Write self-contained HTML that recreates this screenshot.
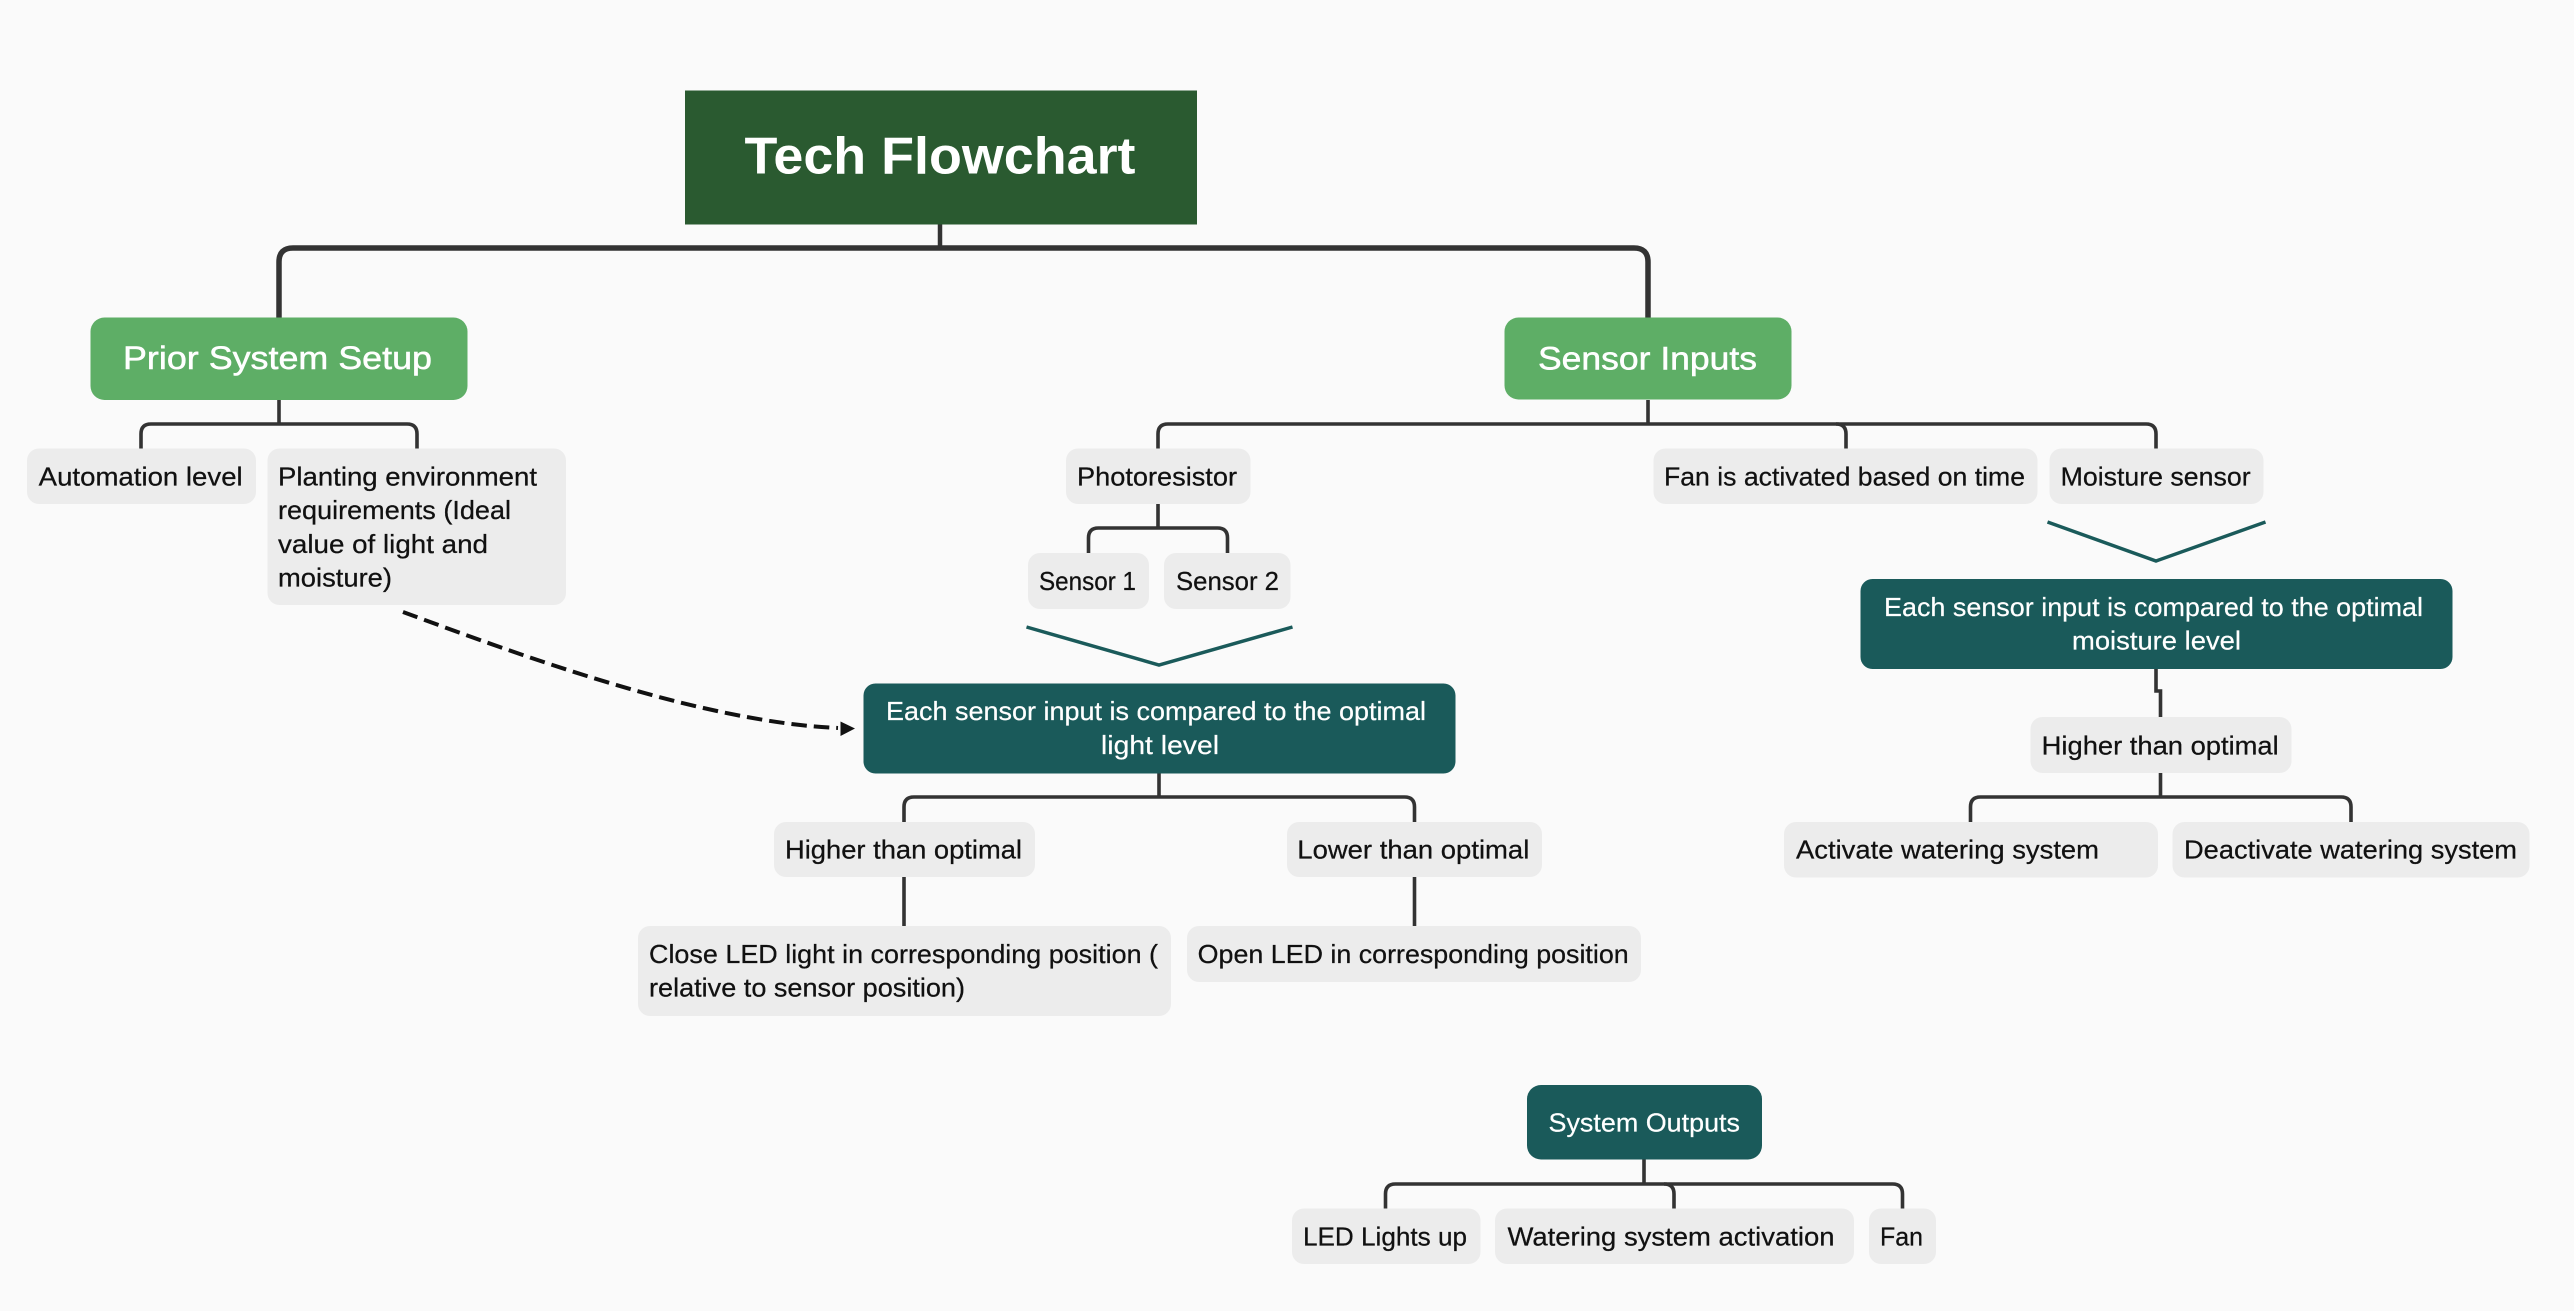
<!DOCTYPE html>
<html><head><meta charset="utf-8"><title>Tech Flowchart</title>
<style>
html,body{margin:0;padding:0;background:#fafafa}
svg{display:block}
text{font-family:"Liberation Sans",sans-serif}
.d{font-size:26px;fill:#111;stroke:#111;stroke-width:.25px}
.w{font-size:26px;fill:#fff;stroke:#fff;stroke-width:.2px}
.s{font-size:32px;fill:#fff;stroke:#fff;stroke-width:.5px}
.n{fill:#ececec}
.t{fill:#1a5a5a}
.g{fill:#5eae66}
.c{fill:none;stroke:#333;stroke-width:3.6;stroke-linecap:butt}
</style></head><body>
<svg xmlns="http://www.w3.org/2000/svg" width="2574" height="1311" viewBox="0 0 2574 1311">
<rect width="2574" height="1311" fill="#fafafa"/>

<!-- connectors -->
<path d="M940 224V248" fill="none" stroke="#333" stroke-width="4.5"/>
<path d="M279 318V262Q279 248 293 248H1634Q1648 248 1648 262V318" fill="none" stroke="#333" stroke-width="5.5"/>
<path class="c" d="M279 400V424"/>
<path class="c" d="M141 449V434Q141 424 151 424H407Q417 424 417 434V449"/>
<path class="c" d="M1648 400V424"/>
<path class="c" d="M1158 449V434Q1158 424 1168 424H2146Q2156 424 2156 434V449"/>
<path class="c" d="M1836 424Q1846 424 1846 434V449"/>
<path class="c" d="M1158 504V528"/>
<path class="c" d="M1088.500 553V538Q1088.500 528 1098.500 528H1217.500Q1227.500 528 1227.500 538V553"/>
<path class="c" d="M1159 773V797"/>
<path class="c" d="M904 822V807Q904 797 914 797H1404.500Q1414.500 797 1414.500 807V822"/>
<path class="c" d="M904 877V926"/>
<path class="c" d="M1414.500 877V926"/>
<path class="c" d="M2156 669V691H2160.500V717"/>
<path class="c" d="M2160.500 773V797"/>
<path class="c" d="M1970.500 822V807Q1970.500 797 1980.500 797H2341Q2351 797 2351 807V822"/>
<path class="c" d="M1644 1159V1184"/>
<path class="c" d="M1385.500 1208.500V1194Q1385.500 1184 1395.500 1184H1892.500Q1902.500 1184 1902.500 1194V1208.500"/>
<path class="c" d="M1664 1184Q1674 1184 1674 1194V1208.500"/>

<!-- chevrons -->
<path d="M1026.500 627L1159 665L1292.500 627" fill="none" stroke="#1a5a5a" stroke-width="3.5"/>
<path d="M2047.500 522L2156 561L2265.500 522" fill="none" stroke="#1a5a5a" stroke-width="3.5"/>

<!-- dashed arrow -->
<path d="M403 612C520 655 700 722 838 728" fill="none" stroke="#111" stroke-width="4" stroke-dasharray="15.500 7"/>
<path d="M840.500 721.500L855 728.500L840.500 736Z" fill="#111"/>

<!-- title -->
<rect x="685" y="90.500" width="512" height="134" fill="#2a5a30"/>
<text x="744.500" y="173.700" font-size="52" font-weight="700" fill="#fff" textLength="391" lengthAdjust="spacingAndGlyphs">Tech Flowchart</text>

<!-- sections -->
<rect class="g" x="90.500" y="317.500" width="377" height="82.500" rx="14"/>
<text class="s" x="123" y="369" textLength="309" lengthAdjust="spacingAndGlyphs">Prior System Setup</text>
<rect class="g" x="1504.500" y="317.500" width="287" height="82" rx="14"/>
<text class="s" x="1538" y="369.300" textLength="219" lengthAdjust="spacingAndGlyphs">Sensor Inputs</text>

<!-- left nodes -->
<rect class="n" x="27" y="448.500" width="229" height="55.500" rx="12"/>
<text class="d" x="38.700" y="485.600" textLength="204" lengthAdjust="spacingAndGlyphs">Automation level</text>
<rect class="n" x="267.500" y="448.500" width="298.500" height="156.500" rx="12"/>
<text class="d" x="278" y="485.600" textLength="259" lengthAdjust="spacingAndGlyphs">Planting environment</text>
<text class="d" x="278" y="519.200" textLength="233" lengthAdjust="spacingAndGlyphs">requirements (Ideal</text>
<text class="d" x="278" y="552.900" textLength="210" lengthAdjust="spacingAndGlyphs">value of light and</text>
<text class="d" x="278" y="586.600" textLength="114" lengthAdjust="spacingAndGlyphs">moisture)</text>

<!-- photoresistor -->
<rect class="n" x="1066" y="448.500" width="184.500" height="55.500" rx="12"/>
<text class="d" x="1077" y="485.600" textLength="160" lengthAdjust="spacingAndGlyphs">Photoresistor</text>
<rect class="n" x="1028" y="553" width="121" height="56" rx="12"/>
<text class="d" x="1039" y="590" textLength="97" lengthAdjust="spacingAndGlyphs">Sensor 1</text>
<rect class="n" x="1164" y="553" width="126.500" height="56" rx="12"/>
<text class="d" x="1176" y="590" textLength="103" lengthAdjust="spacingAndGlyphs">Sensor 2</text>

<!-- light box -->
<rect class="t" x="863.500" y="683.500" width="592" height="90" rx="12"/>
<text class="w" x="886" y="720" textLength="540" lengthAdjust="spacingAndGlyphs">Each sensor input is compared to the optimal</text>
<text class="w" x="1101" y="754" textLength="118" lengthAdjust="spacingAndGlyphs">light level</text>

<rect class="n" x="774" y="822" width="261" height="55" rx="12"/>
<text class="d" x="785" y="858.500" textLength="237" lengthAdjust="spacingAndGlyphs">Higher than optimal</text>
<rect class="n" x="1287" y="822" width="255" height="55" rx="12"/>
<text class="d" x="1297.300" y="858.500" textLength="232" lengthAdjust="spacingAndGlyphs">Lower than optimal</text>
<rect class="n" x="638" y="926" width="533" height="90" rx="12"/>
<text class="d" x="649" y="963" textLength="509" lengthAdjust="spacingAndGlyphs">Close LED light in corresponding position (</text>
<text class="d" x="649" y="996.700" textLength="316" lengthAdjust="spacingAndGlyphs">relative to sensor position)</text>
<rect class="n" x="1187" y="926" width="454" height="56" rx="12"/>
<text class="d" x="1197.700" y="963" textLength="431" lengthAdjust="spacingAndGlyphs">Open LED in corresponding position</text>

<!-- right nodes -->
<rect class="n" x="1653.500" y="448.500" width="384" height="55.500" rx="12"/>
<text class="d" x="1664" y="485.600" textLength="361" lengthAdjust="spacingAndGlyphs">Fan is activated based on time</text>
<rect class="n" x="2049.500" y="448.500" width="214" height="55.500" rx="12"/>
<text class="d" x="2060.600" y="485.600" textLength="190" lengthAdjust="spacingAndGlyphs">Moisture sensor</text>

<rect class="t" x="1860.500" y="579" width="592" height="90" rx="12"/>
<text class="w" x="1884" y="616" textLength="539" lengthAdjust="spacingAndGlyphs">Each sensor input is compared to the optimal</text>
<text class="w" x="2072" y="649.700" textLength="169" lengthAdjust="spacingAndGlyphs">moisture level</text>

<rect class="n" x="2030.500" y="717" width="261" height="56" rx="12"/>
<text class="d" x="2041.700" y="754.500" textLength="237" lengthAdjust="spacingAndGlyphs">Higher than optimal</text>
<rect class="n" x="1784" y="822" width="374" height="55.500" rx="12"/>
<text class="d" x="1796" y="858.500" textLength="303" lengthAdjust="spacingAndGlyphs">Activate watering system</text>
<rect class="n" x="2172.500" y="822" width="357" height="55.500" rx="12"/>
<text class="d" x="2184" y="858.500" textLength="333" lengthAdjust="spacingAndGlyphs">Deactivate watering system</text>

<!-- outputs -->
<rect class="t" x="1527" y="1085" width="235" height="74.500" rx="14"/>
<text class="w" x="1548.500" y="1131.700" textLength="191.500" lengthAdjust="spacingAndGlyphs">System Outputs</text>
<rect class="n" x="1292" y="1208.500" width="188.500" height="55.500" rx="12"/>
<text class="d" x="1303" y="1245.700" textLength="164" lengthAdjust="spacingAndGlyphs">LED Lights up</text>
<rect class="n" x="1495" y="1208.500" width="359" height="55.500" rx="12"/>
<text class="d" x="1507.500" y="1245.700" textLength="327" lengthAdjust="spacingAndGlyphs">Watering system activation</text>
<rect class="n" x="1869" y="1208.500" width="67" height="55.500" rx="12"/>
<text class="d" x="1880" y="1245.700" textLength="43" lengthAdjust="spacingAndGlyphs">Fan</text>
</svg>
</body></html>
